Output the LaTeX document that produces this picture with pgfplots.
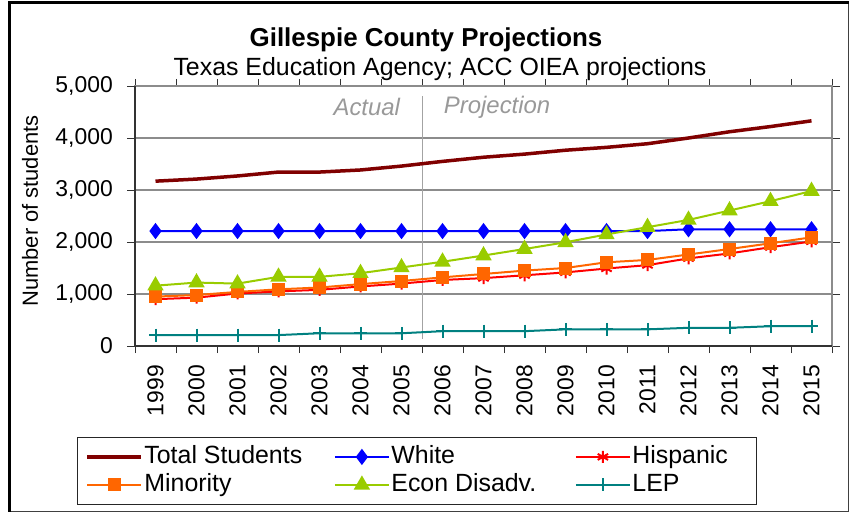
\documentclass[border=0pt]{standalone}
\usepackage{fontspec}
\setmainfont{Liberation Sans}
\usepackage{pgfplots}
\usepackage{pgfplotstable}
\pgfplotsset{compat=1.18}
\definecolor{ctotal}{HTML}{800000}
\definecolor{cwhite}{HTML}{0000FF}
\definecolor{chisp}{HTML}{FF0000}
\definecolor{cmin}{HTML}{FF6600}
\definecolor{cecon}{HTML}{99CC00}
\definecolor{clep}{HTML}{008080}
\definecolor{cgrid}{HTML}{8C8C8C}
\pgfplotstableread{
i Total White Hispanic Minority Econ LEP
0 3170 2210 900 950 1160 210
1 3210 2210 930 980 1220 210
2 3270 2210 1010 1040 1200 210
3 3345 2210 1050 1090 1330 210
4 3345 2210 1080 1125 1330 245
5 3385 2210 1145 1190 1400 245
6 3460 2210 1200 1250 1510 245
7 3550 2210 1270 1320 1620 285
8 3630 2210 1305 1385 1740 285
9 3690 2210 1360 1450 1865 285
10 3765 2210 1415 1500 1995 320
11 3820 2210 1490 1610 2145 320
12 3890 2210 1555 1655 2285 320
13 4000 2245 1685 1760 2425 350
14 4120 2245 1780 1865 2605 350
15 4220 2245 1900 1975 2785 380
16 4330 2245 2010 2090 2980 380
}\data
\begin{document}
\begin{tikzpicture}
\useasboundingbox (0,0) rectangle (853bp,514bp);
% frame
\draw[black!75, line width=1bp] (848bp,511bp) -- (848bp,2bp) -- (9bp,2bp);
\draw[black, line width=3bp] (9.5bp,2bp) -- (9.5bp,511.5bp) -- (848.5bp,511.5bp);
\node[font=\fontsize{26}{30}\selectfont\bfseries] at (426bp,474bp) {Gillespie County Projections};
\node[font=\fontsize{25}{28}\selectfont] at (440bp,445bp) {Texas Education Agency; ACC OIEA projections};
\node[font=\fontsize{22}{25}\selectfont, rotate=90] at (30bp,303bp) {Number of students};
\begin{axis}[
  at={(135bp,168bp)}, anchor=south west,
  scale only axis, width=697bp, height=260bp,
  xmin=-0.5, xmax=16.5, ymin=0, ymax=5000,
  xtick={0,...,16},
  xticklabels={1999,2000,2001,2002,2003,2004,2005,2006,2007,2008,2009,2010,2011,2012,2013,2014,2015},
  minor xtick={-0.5,0.5,...,16.5},
  minor tick length=7bp,
  ytick={0,1000,...,5000},
  major tick length=8bp,
  tick align=outside,
  tick style={black!80, line width=1bp},
  every major x tick/.append style={draw=none},
  ymajorgrids, grid style={cgrid, line width=1.2bp},
  axis line style={cgrid, line width=1.2bp},
  xticklabel style={font=\fontsize{23}{26}\selectfont, rotate=90, anchor=east, inner sep=0pt, xshift=-11bp},
  yticklabel style={font=\fontsize{23}{26}\selectfont, anchor=east, inner sep=0pt, xshift=-14bp},
  /pgf/number format/.cd, assume math mode=true, fixed, 1000 sep={,},
  /pgfplots/.cd,
  clip=false,
  legend columns=3,
  legend cell align=left,
  legend style={at={(axis description cs:-0.0832,-0.35)}, anchor=north west,
    draw=black!85, line width=0.8bp, inner xsep=8bp, inner ysep=8bp,
    font=\fontsize{25}{28}\selectfont,
    nodes={inner xsep=1.5bp, inner ysep=0pt, text height=18bp, text depth=5bp}, row sep=5bp},
  legend image code/.code={\draw[mark repeat=2,mark phase=2,#1] plot coordinates {(0bp,0bp) (27bp,0bp) (54bp,0bp)};},
]
\draw[cgrid!80, line width=1bp] (axis cs:6.5,135) -- (axis cs:6.5,4810);
\node[anchor=east, text=black!40, font=\fontsize{24}{27}\selectfont\itshape] at (axis cs:6.05,4590) {Actual};
\node[anchor=west, text=black!40, font=\fontsize{24}{27}\selectfont\itshape] at (axis cs:6.95,4590) {Projection};
\addplot[ctotal, line width=3.5bp, no marks] table[x=i, y=Total] {\data};
\addlegendentry{\makebox[188bp][l]{Total Students}}
\addplot[cwhite, line width=2bp, mark=diamond*, mark size=6.5bp, mark options={solid}] table[x=i, y=White] {\data};
\addlegendentry{\makebox[182bp][l]{White}}
\addplot[chisp, line width=2bp, mark=asterisk, mark size=6bp] table[x=i, y=Hispanic] {\data};
\addlegendentry{\makebox[114bp][l]{Hispanic}}
\addplot[cmin, line width=2bp, mark=square*, mark size=5.5bp] table[x=i, y=Minority] {\data};
\addlegendentry{\makebox[188bp][l]{Minority}}
\addplot[cecon, line width=2bp, mark=triangle*, mark size=7.5bp] table[x=i, y=Econ] {\data};
\addlegendentry{\makebox[182bp][l]{Econ Disadv.}}
\addplot[clep, line width=2bp, mark=+, mark size=6.5bp] table[x=i, y=LEP] {\data};
\addlegendentry{\makebox[114bp][l]{LEP}}
\draw[black!80, line width=1.2bp] (axis cs:-0.5,5000) -- (axis cs:-0.5,0) -- (axis cs:16.5,0);
\end{axis}
\end{tikzpicture}
\end{document}
